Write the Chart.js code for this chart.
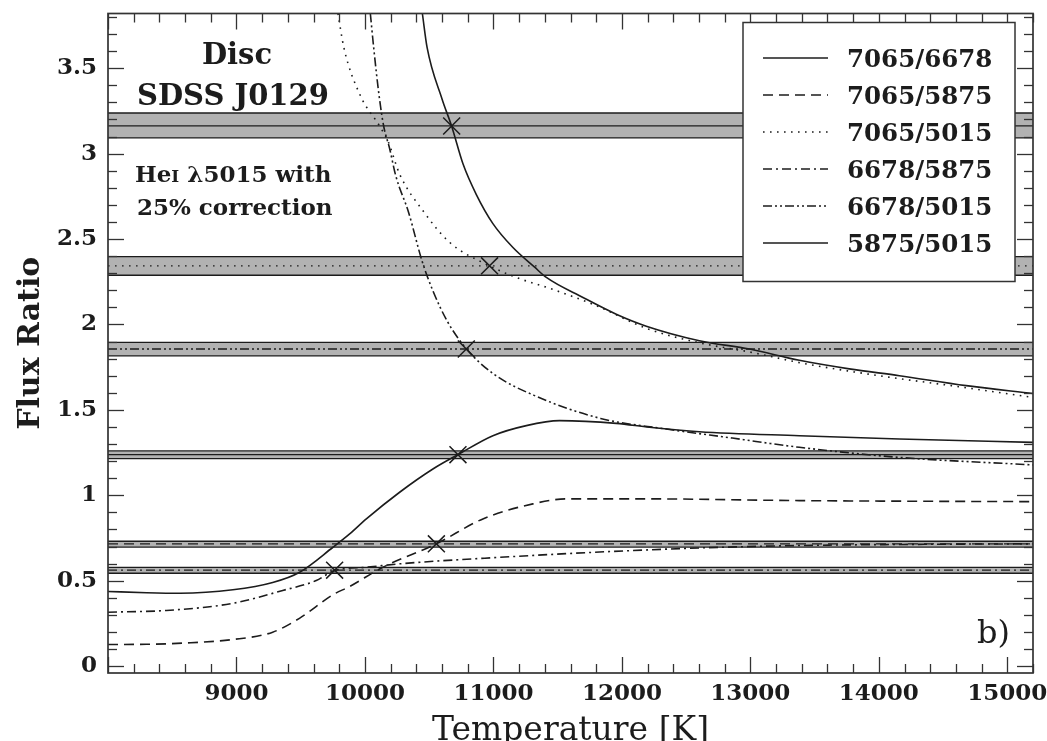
<!DOCTYPE html>
<html>
<head>
<meta charset="utf-8">
<script src="https://cdn.jsdelivr.net/npm/chart.js@4.4.1/dist/chart.umd.min.js"></script>
<style>
html,body{margin:0;padding:0;overflow:hidden;background:#fff;}
#wrap{position:absolute;left:0;top:0;width:1047px;height:751px;}
</style>
</head>
<body>
<div id="wrap"><canvas id="c" width="1047" height="751"></canvas></div>
<script>
// ---------------- data ----------------
const seriesNames = ['7065/6678', '7065/5875', '7065/5015', '6678/5875', '6678/5015', '5875/5015'];

const temp7065_6678 = [10447, 10484, 10600, 10675, 10763, 10867, 10996, 11152, 11321, 11412, 11697, 11956, 12190, 12603, 12992, 13381, 13770, 14160, 14680, 15200];
const ratio7065_6678 = [3.82, 3.62, 3.32, 3.16, 2.94, 2.76, 2.59, 2.45, 2.335, 2.275, 2.158, 2.06, 1.99, 1.905, 1.856, 1.79, 1.74, 1.70, 1.642, 1.596];

const temp7065_5875 = [8000, 8300, 8584, 8972, 9282, 9490, 9755, 9880, 10140, 10556, 10918, 11307, 11567, 12215, 13381, 14400, 15200];
const ratio7065_5875 = [0.127, 0.128, 0.135, 0.156, 0.199, 0.28, 0.42, 0.466, 0.579, 0.716, 0.862, 0.95, 0.979, 0.979, 0.969, 0.965, 0.963];

const temp7065_5015 = [9790, 9836, 9964, 10115, 10181, 10270, 10452, 10660, 10970, 11178, 11463, 11800, 12200, 12600, 13000, 13400, 14000, 14600, 15200];
const ratio7065_5015 = [3.82, 3.62, 3.34, 3.16, 3.07, 2.88, 2.665, 2.48, 2.343, 2.275, 2.205, 2.11, 1.975, 1.893, 1.838, 1.774, 1.70, 1.638, 1.573];

const temp6678_5875 = [8000, 8454, 8972, 9360, 9621, 9764, 10011, 10270, 11048, 11825, 12603, 13381, 14300, 15200];
const ratio6678_5875 = [0.316, 0.326, 0.368, 0.443, 0.501, 0.56, 0.579, 0.599, 0.637, 0.668, 0.692, 0.706, 0.713, 0.716];

const temp6678_5015 = [10042, 10068, 10110, 10146, 10192, 10240, 10340, 10445, 10529, 10640, 10789, 11002, 11316, 11834, 12346, 12860, 13381, 14160, 15200];
const ratio6678_5015 = [3.82, 3.62, 3.34, 3.16, 3.03, 2.87, 2.655, 2.37, 2.197, 2.02, 1.858, 1.71, 1.585, 1.45, 1.388, 1.335, 1.281, 1.222, 1.178];

const temp5875_5015 = [8000, 8300, 8560, 8972, 9282, 9492, 9751, 9881, 10011, 10270, 10529, 10724, 10996, 11256, 11515, 11956, 12215, 12603, 13381, 14160, 15200];
const ratio5875_5015 = [0.437, 0.43, 0.427, 0.447, 0.49, 0.55, 0.696, 0.774, 0.862, 1.018, 1.154, 1.238, 1.349, 1.408, 1.437, 1.421, 1.398, 1.372, 1.349, 1.33, 1.31];

// observed ratios (centre) with their uncertainty bands, one per series
const observedLow    = [3.092, 0.697, 2.288, 0.544, 1.816, 1.215];
const observedCenter = [3.162, 0.716, 2.343, 0.562, 1.856, 1.238];
const observedHigh   = [3.238, 0.731, 2.397, 0.578, 1.895, 1.260];

// temperatures where each model curve meets its observed ratio
const crossTemp  = [10675, 10556, 10970, 9764, 10789, 10724];
const crossRatio = [3.162, 0.716, 2.343, 0.562, 1.856, 1.238];

const xRange = [8000, 15200];
const yRange = [-0.04, 3.82];
const xTickLabels = [9000, 10000, 11000, 12000, 13000, 14000, 15000];
const yTickLabels = [0, 0.5, 1, 1.5, 2, 2.5, 3, 3.5];

// ---------------- styles ----------------
const INK = '#1c1c1c';
const dashes = [[], [10, 6], [1.6, 5.4], [9, 4, 2, 4], [9, 3, 2, 3, 2, 3], []];
const FONT = '"DejaVu Serif", "Liberation Serif", serif';

const temps = [temp7065_6678, temp7065_5875, temp7065_5015, temp6678_5875, temp6678_5015, temp5875_5015];
const ratios = [ratio7065_6678, ratio7065_5875, ratio7065_5015, ratio6678_5875, ratio6678_5015, ratio5875_5015];

const datasets = [];
// bands
for (let i = 0; i < seriesNames.length; i++) {
  datasets.push({
    label: 'low ' + seriesNames[i],
    data: xRange.map(t => ({x: t, y: observedLow[i]})),
    borderColor: INK, borderWidth: 1.4, pointRadius: 0, fill: false, order: 3
  });
  datasets.push({
    label: 'high ' + seriesNames[i],
    data: xRange.map(t => ({x: t, y: observedHigh[i]})),
    borderColor: INK, borderWidth: 1.4, pointRadius: 0,
    fill: '-1', backgroundColor: '#b2b2b2', order: 4
  });
  datasets.push({
    label: 'obs ' + seriesNames[i],
    data: xRange.map(t => ({x: t, y: observedCenter[i]})),
    borderColor: INK, borderWidth: 1.4, borderDash: dashes[i], pointRadius: 0, fill: false, order: 2
  });
}
// model curves
for (let i = 0; i < seriesNames.length; i++) {
  datasets.push({
    label: seriesNames[i],
    data: temps[i].map((t, k) => ({x: t, y: ratios[i][k]})),
    borderColor: INK, borderWidth: 1.6, borderDash: dashes[i], pointRadius: 0,
    cubicInterpolationMode: 'monotone', fill: false, order: 1
  });
}
// crosses
datasets.push({
  label: 'solutions',
  data: crossTemp.map((t, k) => ({x: t, y: crossRatio[k]})),
  showLine: false, pointStyle: 'crossRot', pointRadius: 12,
  pointBorderColor: INK, pointBorderWidth: 1.5, order: 0
});

const deco = {
  id: 'deco',
  afterDatasetsDraw(chart) {
    const {ctx, chartArea: a, scales: {x, y}} = chart;
    ctx.save();
    ctx.strokeStyle = '#333';
    ctx.lineWidth = 1.3;
    const seg = (x1, y1, x2, y2) => { ctx.beginPath(); ctx.moveTo(x1, y1); ctx.lineTo(x2, y2); ctx.stroke(); };
    for (let t = xRange[0]; t <= xRange[1]; t += 200) {
      const px = Math.round(x.getPixelForValue(t)) + 0.5;
      const L = t % 1000 === 0 ? 16 : 9;
      seg(px, a.bottom, px, a.bottom - L);
      seg(px, a.top, px, a.top + L);
    }
    for (let k = 0; k <= 38; k++) {
      const py = Math.round(y.getPixelForValue(k / 10)) + 0.5;
      const L = k % 5 === 0 ? 16 : 9;
      seg(a.left, py, a.left + L, py);
      seg(a.right, py, a.right - L, py);
    }
    ctx.lineWidth = 1.7;
    ctx.strokeStyle = '#333';
    ctx.strokeRect(a.left, a.top, a.right - a.left, a.bottom - a.top);

    // legend
    const lx = a.left + 635, ly = a.top + 9, lw = 272, lh = 259;
    ctx.fillStyle = '#fff';
    ctx.fillRect(lx, ly, lw, lh);
    ctx.lineWidth = 1.5;
    ctx.strokeStyle = '#333';
    ctx.strokeRect(lx, ly, lw, lh);
    ctx.font = 'bold 24.5px ' + FONT;
    ctx.fillStyle = INK;
    ctx.textBaseline = 'alphabetic';
    ctx.textAlign = 'left';
    for (let i = 0; i < seriesNames.length; i++) {
      const base = ly + 44 + i * 37;
      ctx.strokeStyle = INK;
      ctx.lineWidth = 1.6;
      ctx.setLineDash(dashes[i]);
      seg(lx + 20, base - 8.5, lx + 85, base - 8.5);
      ctx.setLineDash([]);
      ctx.fillText(seriesNames[i], lx + 104, base);
    }

    // annotations
    ctx.fillStyle = INK;
    ctx.font = 'bold 29px ' + FONT;
    ctx.textAlign = 'center';
    ctx.fillText('Disc', a.left + 129, a.top + 50);
    ctx.textAlign = 'left';
    ctx.fillText('SDSS J0129', a.left + 29, a.top + 91);
    ctx.font = 'bold 23px ' + FONT;
    let px = a.left + 27;
    ctx.fillText('He', px, a.top + 168);
    px += ctx.measureText('He').width;
    ctx.font = 'bold 17px ' + FONT;
    ctx.fillText('I', px, a.top + 168);
    px += ctx.measureText('I').width;
    ctx.font = 'bold 23px ' + FONT;
    ctx.fillText(' \u03bb5015 with', px, a.top + 168);
    ctx.fillText('25% correction', a.left + 29, a.top + 201);
    ctx.font = '32px ' + FONT;
    ctx.fillText('b)', a.right - 56, a.bottom - 30);
    ctx.restore();
  }
};

new Chart(document.getElementById('c'), {
  type: 'line',
  data: {datasets},
  plugins: [deco],
  options: {
    responsive: false,
    animation: false,
    events: [],
    devicePixelRatio: 1,
    layout: {padding: {top: 12, right: 14, left: 0, bottom: 0}},
    plugins: {legend: {display: false}, tooltip: {enabled: false}},
    scales: {
      x: {
        type: 'linear', min: xRange[0], max: xRange[1],
        grid: {display: false, drawTicks: false}, border: {display: false},
        afterBuildTicks: s => { s.ticks = xTickLabels.map(v => ({value: v})); },
        afterFit: s => { s.height = 78; s.paddingLeft = 0; s.paddingRight = 0; },
        ticks: {
          padding: 7, color: INK, maxRotation: 0, autoSkip: false,
          font: {family: FONT, size: 23, weight: 'bold'},
          callback: v => String(v)
        },
        title: {
          display: true, text: 'Temperature [K]', color: INK,
          font: {family: FONT, size: 33, weight: 'normal'},
          padding: {top: 0, bottom: 0}
        }
      },
      y: {
        type: 'linear', min: yRange[0], max: yRange[1],
        grid: {display: false, drawTicks: false}, border: {display: false},
        afterBuildTicks: s => { s.ticks = yTickLabels.map(v => ({value: v})); },
        afterFit: s => { s.width = 108; s.paddingTop = 0; s.paddingBottom = 0; },
        ticks: {
          padding: 11, color: INK, autoSkip: false,
          font: {family: FONT, size: 23, weight: 'bold'},
          callback: v => String(Math.round(v * 10) / 10)
        },
        title: {
          display: true, text: 'Flux Ratio', color: INK,
          font: {family: FONT, size: 30, weight: 'bold'},
          padding: {top: 13, bottom: 0}
        }
      }
    }
  }
});
</script>
</body>
</html>
